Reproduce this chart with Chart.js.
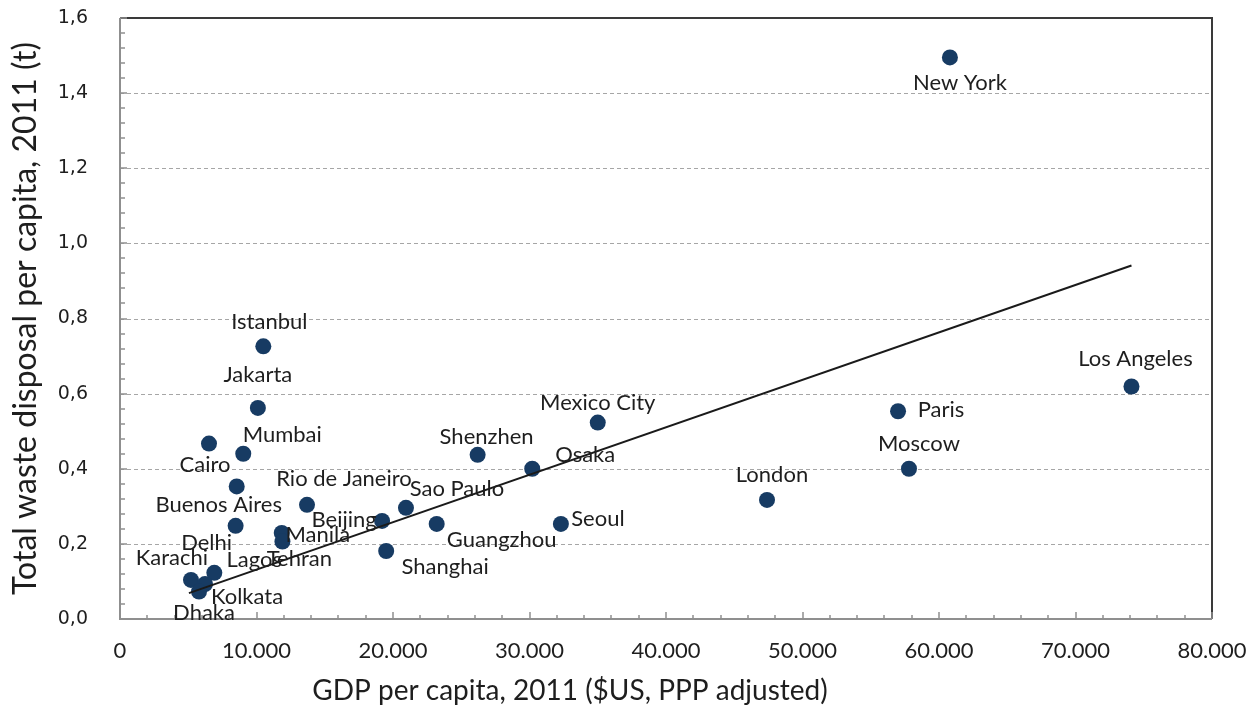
<!DOCTYPE html>
<html>
<head>
<meta charset="utf-8">
<script src="https://cdn.jsdelivr.net/npm/chart.js@4.4.1/dist/chart.umd.min.js"></script>
<style>
  html, body { margin: 0; padding: 0; background: #ffffff; }
  canvas { display: block; }
</style>
</head>
<body>
<canvas id="chart" width="1257" height="713"></canvas>
<script>
// City data: GDP per capita (2011, $US PPP) and total waste disposal per capita (t)
const cities = [
  "New York", "Los Angeles", "Paris", "Moscow", "London", "Mexico City",
  "Osaka", "Seoul", "Shenzhen", "Guangzhou", "Sao Paulo", "Beijing",
  "Shanghai", "Rio de Janeiro", "Manila", "Tehran", "Istanbul", "Jakarta",
  "Mumbai", "Cairo", "Buenos Aires", "Delhi", "Lagos", "Karachi",
  "Kolkata", "Dhaka"
];
const gdpPerCapita = [
  60800, 74100, 57000, 57800, 47400, 35000,
  30200, 32300, 26200, 23200, 20950, 19200,
  19500, 13700, 11850, 11900, 10500, 10100,
  9030, 6520, 8550, 8470, 6910, 5200,
  6230, 5790
];
const wastePerCapita = [
  1.495, 0.619, 0.553, 0.400, 0.317, 0.523,
  0.400, 0.253, 0.437, 0.253, 0.296, 0.261,
  0.181, 0.304, 0.229, 0.206, 0.726, 0.562,
  0.440, 0.467, 0.353, 0.248, 0.123, 0.104,
  0.093, 0.073
];

// Linear trend line end points
const trendGdp = [5050, 74100];
const trendWaste = [0.069, 0.941];

// Axis tick values
const xTicks = [0, 10000, 20000, 30000, 40000, 50000, 60000, 70000, 80000];
const yTicks = [0.0, 0.2, 0.4, 0.6, 0.8, 1.0, 1.2, 1.4, 1.6];

// Label placement around each marker (pixels: dx, dy from the marker centre)
const labelOffsets = [
  [10, 25], [4, -28], [43, -1], [10, -25], [5, -25], [0, -20],
  [53, -14], [37, -5], [9, -18], [65, 16], [51, -19], [-38, -1],
  [59, 16], [37, -26], [36, 2], [17, 17], [6, -24], [0, -33],
  [39, -19], [-4, 21], [-18, 19], [-29, 17], [40, -13], [-19, -22],
  [42, 13], [5, 21]
];

const textColor = "#1e1e1e";
const labelFont = "22px Lato";

function thousands(v) {
  return String(v).replace(/\B(?=(\d{3})+(?!\d))/g, ".");
}

// Frame, dashed gridlines, inward tick marks, point labels and axis titles
const framePlugin = {
  id: "frame",
  beforeDatasetsDraw(chart) {
    const { ctx, chartArea: a, scales: { x, y } } = chart;
    ctx.save();
    ctx.strokeStyle = "#a6a6a6";
    ctx.lineWidth = 1;
    ctx.setLineDash([4, 3]);
    yTicks.forEach(v => {
      if (v <= 0 || v >= 1.6) return;
      const py = Math.round(y.getPixelForValue(v)) + 0.5;
      ctx.beginPath();
      ctx.moveTo(a.left, py);
      ctx.lineTo(a.right, py);
      ctx.stroke();
    });
    ctx.setLineDash([]);
    ctx.strokeStyle = "#3a3a3a";
    ctx.lineWidth = 2;
    ctx.beginPath();
    ctx.moveTo(a.left, a.top);
    ctx.lineTo(a.right, a.top);
    ctx.lineTo(a.right, a.bottom);
    ctx.stroke();
    ctx.strokeStyle = "#8f8f8f";
    ctx.beginPath();
    ctx.moveTo(a.left, a.top);
    ctx.lineTo(a.left, a.bottom);
    ctx.lineTo(a.right, a.bottom);
    ctx.stroke();
    ctx.lineWidth = 1.5;
    for (let v = 0; v <= 80000; v += 2000) {
      const px = Math.round(x.getPixelForValue(v));
      const len = v % 10000 === 0 ? 7 : 4;
      ctx.beginPath();
      ctx.moveTo(px, a.bottom);
      ctx.lineTo(px, a.bottom - len);
      ctx.stroke();
    }
    for (let i = 0; i <= 40; i++) {
      const py = Math.round(y.getPixelForValue(i * 0.04));
      const len = i % 5 === 0 ? 7 : 5;
      ctx.beginPath();
      ctx.moveTo(a.left, py);
      ctx.lineTo(a.left + len, py);
      ctx.stroke();
    }
    ctx.restore();
  },
  afterDatasetsDraw(chart) {
    const { ctx, chartArea: a } = chart;
    const meta = chart.getDatasetMeta(1);
    ctx.save();
    ctx.fillStyle = textColor;
    ctx.font = labelFont;
    ctx.textAlign = "center";
    ctx.textBaseline = "middle";
    meta.data.forEach((pt, i) => {
      const [dx, dy] = labelOffsets[i];
      ctx.fillText(cities[i], pt.x + dx, pt.y + dy);
    });
    ctx.font = "28px Lato";
    ctx.fillText("GDP per capita, 2011 ($US, PPP adjusted)", 570, 691);
    ctx.translate(26, (a.top + a.bottom) / 2);
    ctx.rotate(-Math.PI / 2);
    ctx.font = "32px Lato";
    ctx.fillText("Total waste disposal per capita, 2011 (t)", 0, 0);
    ctx.restore();
  }
};

new Chart(document.getElementById("chart"), {
  type: "scatter",
  data: {
    datasets: [
      {
        label: "Trend",
        data: trendGdp.map((g, i) => ({ x: g, y: trendWaste[i] })),
        showLine: true,
        borderColor: "#1a1a1a",
        borderWidth: 2,
        pointRadius: 0,
        pointHoverRadius: 0,
        fill: false,
        order: 0
      },
      {
        label: "Cities",
        data: gdpPerCapita.map((g, i) => ({ x: g, y: wastePerCapita[i] })),
        backgroundColor: "#173b63",
        borderWidth: 0,
        pointRadius: 8,
        pointHoverRadius: 8,
        order: 1
      }
    ]
  },
  options: {
    responsive: false,
    devicePixelRatio: 1,
    animation: false,
    events: [],
    layout: { padding: { top: 18, right: 45, bottom: 0, left: 0 } },
    plugins: {
      legend: { display: false },
      tooltip: { enabled: false }
    },
    scales: {
      x: {
        type: "linear",
        min: xTicks[0],
        max: xTicks[xTicks.length - 1],
        grid: { display: false, drawTicks: false },
        border: { display: false },
        afterFit(scale) {
          scale.height = 94;
          scale.paddingLeft = 0;
          scale.paddingRight = 0;
        },
        afterBuildTicks(scale) { scale.ticks = xTicks.map(v => ({ value: v })); },
        ticks: {
          padding: 19,
          maxRotation: 0,
          color: textColor,
          font: { family: "Lato", size: 22 },
          callback: v => thousands(v)
        }
      },
      y: {
        type: "linear",
        min: yTicks[0],
        max: yTicks[yTicks.length - 1],
        grid: { display: false, drawTicks: false },
        border: { display: false },
        afterFit(scale) {
          scale.width = 120;
          scale.paddingTop = 0;
          scale.paddingBottom = 0;
        },
        afterBuildTicks(scale) { scale.ticks = yTicks.map(v => ({ value: v })); },
        ticks: {
          padding: 32,
          color: textColor,
          font: { family: "DejaVu Sans", size: 19 },
          callback: v => v.toFixed(1).replace(".", ",")
        }
      }
    }
  },
  plugins: [framePlugin]
});
</script>
</body>
</html>
